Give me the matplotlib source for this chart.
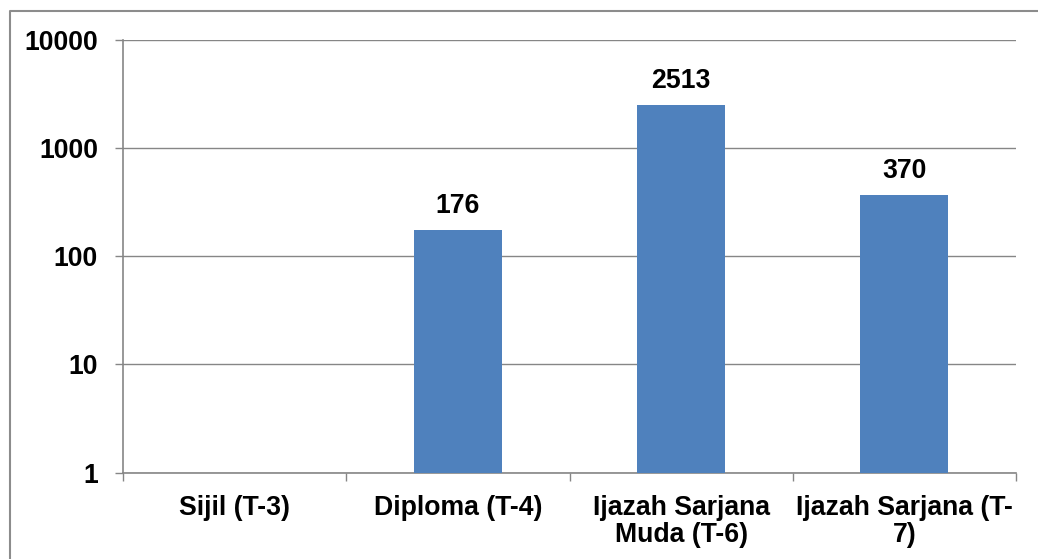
import matplotlib
matplotlib.use("Agg")
import matplotlib.pyplot as plt
import matplotlib.ticker as mticker
from matplotlib.lines import Line2D

# data
categories = ["Sijil (T-3)", "Diploma (T-4)", "Ijazah Sarjana\nMuda (T-6)", "Ijazah Sarjana (T-\n7)"]
counts = [0, 176, 2513, 370]
y_ticks = [1, 10, 100, 1000, 10000]

plt.rcParams['font.family'] = ['Liberation Sans', 'DejaVu Sans']
plt.rcParams['font.weight'] = 'bold'
fs = 19.2

fig = plt.figure(figsize=(10.38, 5.59), dpi=100)
ax = fig.add_axes([123 / 1038, 1 - 472.6 / 559, (1016 - 123) / 1038, (472.6 - 40) / 559])

# outer border of the chart area (only top and left edges are visible)
bx, by = 9.5 / 1038, 1 - 11 / 559
fig.lines.append(Line2D([bx, bx, 1.0], [0.0, by, by], transform=fig.transFigure,
                        color='#8c8c8c', linewidth=1.5))

grey = '#868686'
x = list(range(len(categories)))
ax.set_yscale('log')
ax.set_ylim(1, 10000)
ax.set_xlim(-0.5, len(categories) - 0.5)
ax.set_axisbelow(True)
ax.yaxis.grid(True, color=grey, linewidth=1)

bars = ax.bar(x, counts, width=0.395, color='#4F81BD', zorder=3)
for xi, v in zip(x, counts):
    if v > 0:
        ax.annotate(str(v), (xi, v), xytext=(0, 8), textcoords='offset points',
                    ha='center', va='bottom', fontsize=fs, fontweight='bold')

ax.set_yticks(y_ticks)
ax.yaxis.set_major_formatter(mticker.FuncFormatter(lambda v, p: f"{int(v)}"))
ax.yaxis.set_minor_locator(mticker.NullLocator())
ax.set_xticks(x)
ax.set_xticklabels(categories, linespacing=1.05)
ax.xaxis.set_minor_locator(mticker.FixedLocator([i - 0.5 for i in range(len(categories) + 1)]))

ax.tick_params(axis='y', which='major', length=6, width=1, color=grey, pad=12, labelsize=fs)
ax.tick_params(axis='x', which='major', length=0, pad=16, labelsize=fs)
ax.tick_params(axis='x', which='minor', length=6, width=1, color=grey)

for s in ['top', 'right']:
    ax.spines[s].set_visible(False)
for s in ['left', 'bottom']:
    ax.spines[s].set_color(grey)
    ax.spines[s].set_linewidth(1.2)

fig.savefig("out.png", dpi=100)
